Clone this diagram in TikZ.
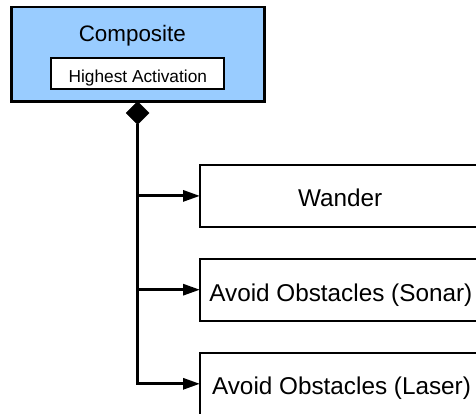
\documentclass[tikz,border=0pt]{standalone}
\usepackage{fontspec}
\setmainfont{Liberation Sans}
\usetikzlibrary{arrows.meta,shapes.geometric}
\definecolor{compblue}{HTML}{99CCFF}
\tikzset{
  x=1pt,y=-1pt,
  box/.style={draw=black,line width=2pt,rectangle,inner sep=0pt,outer sep=0pt},
  lbl/.style={anchor=base,inner sep=0pt,text=black},
  conn/.style={line width=3pt,-{Triangle[length=17pt,width=11pt]}},
}
\begin{document}
\begin{tikzpicture}
\useasboundingbox (0,0) rectangle (476,414);
\clip (0,0) rectangle (476,414);
% composite
\node[box,line width=2.6pt,fill=compblue,minimum width=253pt,minimum height=94.5pt] (comp) at (138.2,54.3) {};
\node[lbl,font=\fontsize{22.4}{26}\selectfont] (comptext) at (132.3,41.5) {Composite};
\node[box,line width=1.4pt,fill=white,minimum width=173pt,minimum height=31pt] (hi) at (137.4,73.7) {};
\node[lbl,font=\fontsize{17.3}{20}\selectfont] (hitext) at (137.8,82.8) {Highest Activation};
% diamond
\node[diamond,draw=black,fill=black,inner sep=0pt,outer sep=0pt,minimum width=23pt,minimum height=23pt,anchor=north] (dia) at (137.7,101.5) {};
% behaviours
\node[box,fill=white,minimum width=282pt,minimum height=62pt] (wander) at (341,195.9) {};
\node[lbl,font=\fontsize{24.3}{28}\selectfont] (wtext) at (340.2,206.8) {Wander};
\node[box,fill=white,minimum width=282pt,minimum height=62pt] (sonar) at (341,289.7) {};
\node[lbl,font=\fontsize{24.3}{28}\selectfont] (stext) at (340.8,301.5) {Avoid Obstacles (Sonar)};
\node[box,fill=white,minimum width=282pt,minimum height=62pt] (laser) at (341,383.8) {};
\node[lbl,font=\fontsize{24.3}{28}\selectfont] (ltext) at (341.5,394.5) {Avoid Obstacles (Laser)};
% connectors
\draw[conn] (dia.south) |- (laser.west);
\draw[conn] (dia.south |- wander.west) -- (wander.west);
\draw[conn] (dia.south |- sonar.west) -- (sonar.west);
\end{tikzpicture}
\end{document}
